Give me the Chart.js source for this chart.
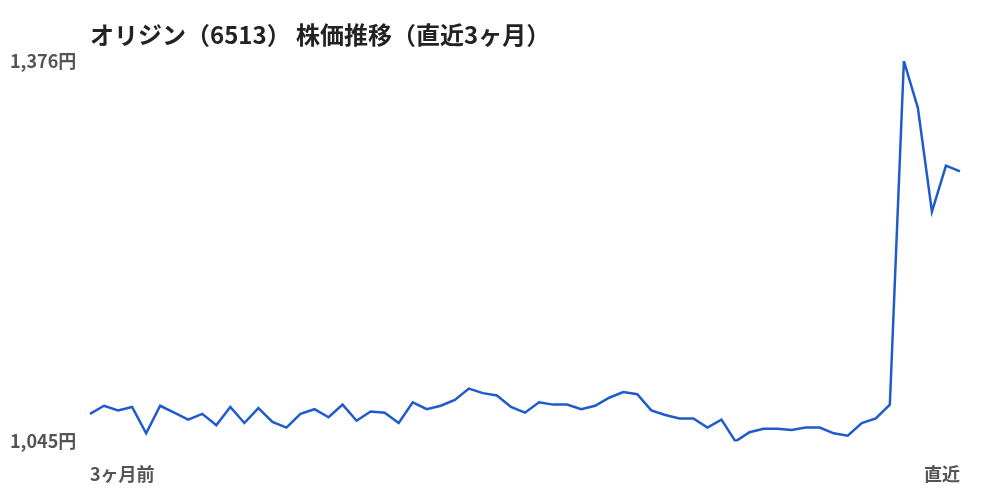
<!DOCTYPE html>
<html>
<head>
<meta charset="utf-8">
<script src="https://cdn.jsdelivr.net/npm/chart.js@4.4.0/dist/chart.umd.min.js"></script>
<style>
html,body{margin:0;padding:0;background:#fff;}
#wrap{width:1000px;height:500px;}
</style>
</head>
<body>
<div id="wrap"><canvas id="c" width="1000" height="500"></canvas></div>
<script>
const titleText = "オリジン（6513） 株価推移（直近3ヶ月）";
const xEndLabels = ["3ヶ月前", "直近"];
const prices = [
  1069, 1076, 1072, 1075, 1052, 1076, 1070, 1064, 1069, 1059,
  1075, 1061, 1074, 1062, 1057, 1069, 1073, 1066, 1077, 1063,
  1071, 1070, 1061, 1079, 1073, 1076, 1081, 1091, 1087, 1085,
  1075, 1070, 1079, 1077, 1077, 1073, 1076, 1083, 1088, 1086,
  1072, 1068, 1065, 1065, 1057, 1064, 1045, 1053, 1056, 1056,
  1055, 1057, 1057, 1052, 1050, 1061, 1065, 1077, 1376, 1335,
  1245, 1285, 1280
];
const labels = prices.map((_, i) => i === 0 ? xEndLabels[0] : (i === prices.length - 1 ? xEndLabels[1] : ""));
const yMin = Math.min(...prices);
const yMax = Math.max(...prices);

const FONT = "'Noto Sans CJK JP', 'Noto Sans', sans-serif";

new Chart(document.getElementById('c'), {
  type: 'line',
  data: {
    labels: labels,
    datasets: [{
      data: prices,
      borderColor: '#1f5bcc',
      borderWidth: 2.5,
      pointRadius: 0,
      tension: 0,
      fill: false
    }]
  },
  options: {
    responsive: false,
    animation: false,
    devicePixelRatio: 1,
    layout: { padding: { top: 12, left: 10, right: 40, bottom: -7 } },
    plugins: {
      legend: { display: false },
      tooltip: { enabled: false },
      title: {
        display: true,
        text: titleText,
        align: 'start',
        fullSize: false,
        color: '#222',
        font: { family: FONT, size: 24, weight: 'bold' },
        padding: { top: 8, bottom: 12.2 }
      }
    },
    scales: {
      x: {
        grid: { display: false, drawTicks: false },
        border: { display: false },
        ticks: {
          autoSkip: false,
          maxRotation: 0,
          align: 'inner',
          padding: 22,
          color: '#555',
          font: { family: FONT, size: 18, weight: 'bold' },
          callback: function(v, i) { return labels[i]; }
        }
      },
      y: {
        min: yMin,
        max: yMax,
        grid: { display: false, drawTicks: false },
        border: { display: false },
        afterBuildTicks: function(scale) { scale.ticks = [{ value: yMin }, { value: yMax }]; },
        afterFit: function(scale) { scale.width = 80; },
        ticks: {
          crossAlign: 'far',
          padding: 0,
          color: '#555',
          font: { family: FONT, size: 18, weight: 'bold' },
          callback: function(v) { return v.toLocaleString('en-US') + '円'; }
        }
      }
    }
  }
});
</script>
</body>
</html>
